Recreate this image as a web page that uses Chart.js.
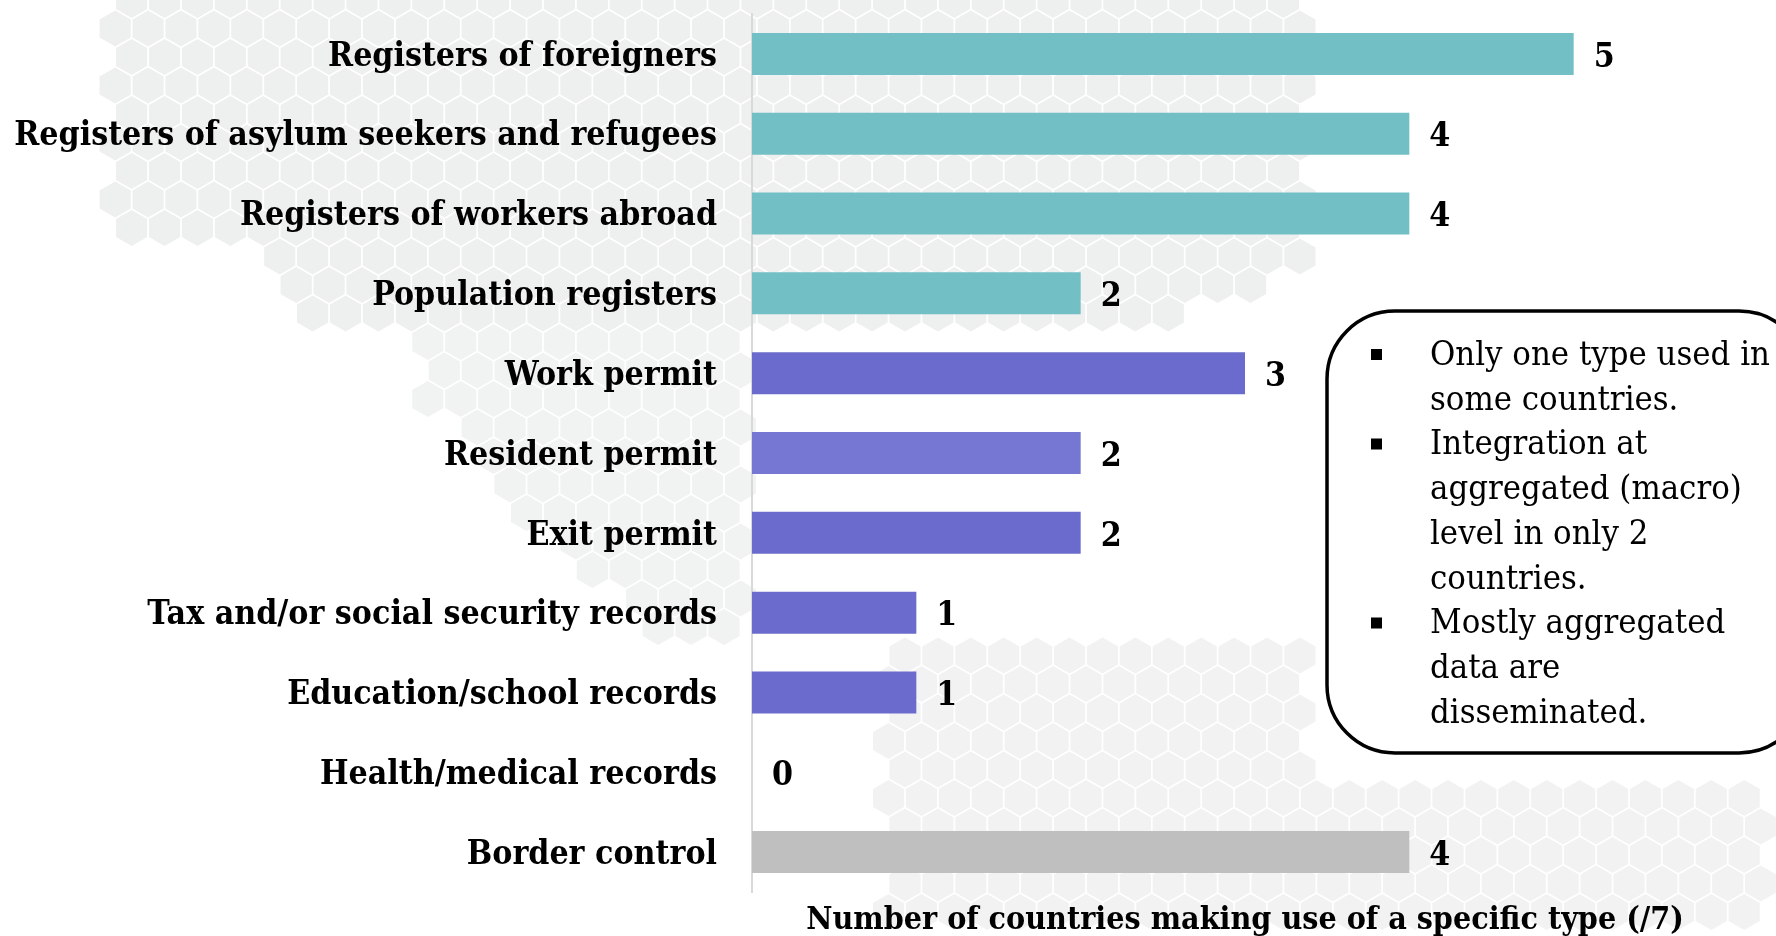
<!DOCTYPE html>
<html><head><meta charset="utf-8">
<script src="https://cdn.jsdelivr.net/npm/chart.js@4"></script>
<style>html,body{margin:0;padding:0;background:#fff;overflow:hidden}#wrap{position:relative;width:1776px;height:936px}canvas{display:block}</style>
</head><body><div id="wrap"><canvas id="c" width="1776" height="936"></canvas></div>
<script>
// ---- data ----
const categories = [
  'Registers of foreigners',
  'Registers of asylum seekers and refugees',
  'Registers of workers abroad',
  'Population registers',
  'Work permit',
  'Resident permit',
  'Exit permit',
  'Tax and/or social security records',
  'Education/school records',
  'Health/medical records',
  'Border control'
];
const values = [5, 4, 4, 2, 3, 2, 2, 1, 1, 0, 4];
const groups = ['register','register','register','register','permit','resident','permit','permit','permit','permit','border'];
const xAxisTitle = 'Number of countries making use of a specific type (/7)';
const noteLines = [
  {bullet: true,  text: 'Only one type used in'},
  {bullet: false, text: 'some countries.'},
  {bullet: true,  text: 'Integration at'},
  {bullet: false, text: 'aggregated (macro)'},
  {bullet: false, text: 'level in only 2'},
  {bullet: false, text: 'countries.'},
  {bullet: true,  text: 'Mostly aggregated'},
  {bullet: false, text: 'data are'},
  {bullet: false, text: 'disseminated.'}
];

// ---- styles ----
const groupColors = {register: '#72bfc5', permit: '#6b6bcd', resident: '#7676d3', border: '#bfbfbf'};
const SERIF = '"DejaVu Serif Condensed", "DejaVu Serif", "Liberation Serif", serif';

function fitSize(text, weight, target) {
  const cx = document.createElement('canvas').getContext('2d');
  cx.font = weight + ' 100px ' + SERIF;
  return 100 * target / cx.measureText(text).width;
}
const labelSize = fitSize('Registers of asylum seekers and refugees', 'bold', 703);
const titleSize = fitSize(xAxisTitle, 'bold', 878);
const noteSize = fitSize('Only one type used in', 'normal', 340);

// decorative hexagon background
function inPoly(x, y, poly) {
  let inside = false;
  for (let i = 0, j = poly.length - 1; i < poly.length; j = i++) {
    const xi = poly[i][0], yi = poly[i][1], xj = poly[j][0], yj = poly[j][1];
    if (((yi > y) !== (yj > y)) && (x < (xj - xi) * (y - yi) / (yj - yi) + xi)) inside = !inside;
  }
  return inside;
}
const hexRegions = [
  {fill: '#eeefef', poly: [[108,0],[1303,0],[1303,272],[1133,340],[793,340],[329,340],[272,261],[108,227]]},
  {fill: '#f1f2f2', poly: [[419,329],[748,329],[748,634],[657,634],[476,476],[419,385]]},
  {fill: '#f2f2f2', poly: [[884,640],[1300,640],[1300,770],[1776,770],[1776,936],[884,936]]}
];
const bgPlugin = {
  id: 'bg',
  beforeDraw(chart) {
    const ctx = chart.ctx;
    ctx.save();
    ctx.fillStyle = '#fff';
    ctx.fillRect(0, 0, chart.width, chart.height);
    const R = 19, w = Math.sqrt(3) * R;
    for (let row = -1; row * 1.5 * R < chart.height + R; row++) {
      for (let col = -1; col * w < chart.width + w; col++) {
        const cx = col * w + (row % 2 ? w / 2 : 0), cy = row * 1.5 * R;
        const reg = hexRegions.find(r => inPoly(cx, cy, r.poly));
        if (!reg) continue;
        ctx.beginPath();
        for (let k = 0; k < 6; k++) {
          const a = Math.PI / 180 * (60 * k - 90);
          const px = cx + (R - 1) * Math.cos(a), py = cy + (R - 1) * Math.sin(a);
          k ? ctx.lineTo(px, py) : ctx.moveTo(px, py);
        }
        ctx.closePath();
        ctx.fillStyle = reg.fill;
        ctx.fill();
      }
    }
    ctx.restore();
  }
};

const valueLabelPlugin = {
  id: 'valueLabels',
  afterDatasetsDraw(chart) {
    const ctx = chart.ctx;
    const meta = chart.getDatasetMeta(0);
    ctx.save();
    ctx.font = 'bold ' + labelSize + 'px ' + SERIF;
    ctx.fillStyle = '#000';
    ctx.textAlign = 'left';
    ctx.textBaseline = 'middle';
    meta.data.forEach((bar, i) => {
      ctx.fillText(String(values[i]), bar.x + 20, bar.y + 4);
    });
    ctx.restore();
  }
};

const notePlugin = {
  id: 'note',
  afterDraw(chart) {
    const ctx = chart.ctx;
    ctx.save();
    const x = 1327, y = 311, w = 480, h = 442, r = 68;
    ctx.beginPath();
    ctx.moveTo(x + r, y);
    ctx.lineTo(x + w - r, y);
    ctx.arcTo(x + w, y, x + w, y + r, r);
    ctx.lineTo(x + w, y + h - r);
    ctx.arcTo(x + w, y + h, x + w - r, y + h, r);
    ctx.lineTo(x + r, y + h);
    ctx.arcTo(x, y + h, x, y + h - r, r);
    ctx.lineTo(x, y + r);
    ctx.arcTo(x, y, x + r, y, r);
    ctx.closePath();
    ctx.fillStyle = '#fff';
    ctx.fill();
    ctx.lineWidth = 3.5;
    ctx.strokeStyle = '#000';
    ctx.stroke();
    ctx.font = noteSize + 'px ' + SERIF;
    ctx.fillStyle = '#000';
    ctx.textBaseline = 'middle';
    noteLines.forEach((ln, i) => {
      const cy = 356 + i * 44.75;
      if (ln.bullet) ctx.fillRect(1371, cy - 7, 11, 11);
      ctx.fillText(ln.text, 1430, cy);
    });
    ctx.restore();
  }
};

new Chart(document.getElementById('c'), {
  type: 'bar',
  data: {
    labels: categories,
    datasets: [{
      data: values,
      backgroundColor: groups.map(g => groupColors[g]),
      borderWidth: 0,
      categoryPercentage: 1,
      barPercentage: 0.526
    }]
  },
  options: {
    indexAxis: 'y',
    responsive: false,
    animation: false,
    devicePixelRatio: 1,
    layout: {padding: {top: 14, right: 38, left: 0, bottom: 0}},
    plugins: {legend: {display: false}, tooltip: {enabled: false}},
    scales: {
      x: {
        min: 0, max: 6,
        grid: {display: false, drawTicks: false},
        border: {display: false},
        ticks: {display: false},
        title: {
          display: true,
          text: xAxisTitle,
          color: '#000',
          padding: 0,
          font: {family: SERIF, weight: 'bold', size: titleSize, lineHeight: '30px'}
        },
        afterFit(scale) { scale.height = 44; scale.paddingLeft = 0; scale.paddingRight = 0; }
      },
      y: {
        grid: {display: false, drawTicks: false},
        border: {display: true, color: '#d9d9d9', width: 2},
        ticks: {
          color: '#000',
          padding: 35,
          labelOffset: 3,
          font: {family: SERIF, weight: 'bold', size: labelSize}
        },
        afterFit(scale) { scale.width = 752; scale.paddingTop = 0; scale.paddingBottom = 0; }
      }
    }
  },
  plugins: [bgPlugin, valueLabelPlugin, notePlugin]
});
</script>
</body></html>
